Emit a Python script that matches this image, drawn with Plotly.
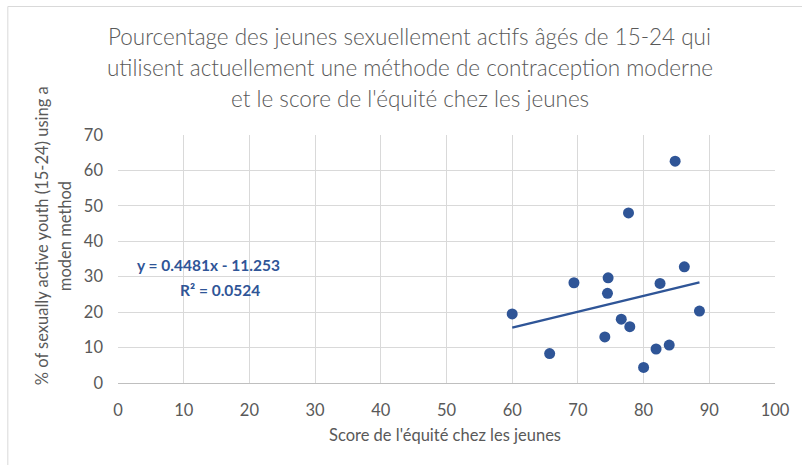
import plotly.graph_objects as go

# ---- data ----
score_equite = [60.0, 65.7, 69.4, 74.6, 74.5, 74.1, 76.6, 77.9, 77.7, 80.0, 81.9, 83.9, 82.5, 84.8, 86.2, 88.5]
pct_modern = [19.5, 8.3, 28.3, 29.7, 25.3, 13.0, 18.0, 15.9, 48.0, 4.4, 9.6, 10.7, 28.1, 62.6, 32.8, 20.3]
trend_slope = 0.4481
trend_intercept = -11.253
r_squared = 0.0524

x_ticks = list(range(0, 101, 10))
y_ticks = list(range(0, 71, 10))

title_lines = [
    "Pourcentage des jeunes sexuellement actifs âgés de 15-24 qui",
    "utilisent actuellement une méthode de contraception moderne",
    "et le score de l'équité chez les jeunes",
]
y_title_lines = ["% of sexually active youth (15-24) using a", "moden method"]
x_title = "Score de l'équité chez les jeunes"

# ---- layout geometry (pixels) ----
W, H = 802, 465
L, R, T, B = 118, 777, 135, 383
FONT = "Lato"
GREY = "#595959"
BLUE = "#2F5597"
AX = 16.5
EQ = 15.5


def px(xp):
    return (xp - L) / (R - L)


def py(yp):
    return (B - yp) / (B - T)


fig = go.Figure()

fig.add_trace(go.Scatter(
    x=score_equite, y=pct_modern, mode="markers",
    marker=dict(color=BLUE, size=11, line=dict(width=0)),
    showlegend=False, hoverinfo="x+y",
))

tx = [min(score_equite), max(score_equite)]
ty = [trend_slope * v + trend_intercept for v in tx]
fig.add_trace(go.Scatter(
    x=tx, y=ty, mode="lines",
    line=dict(color=BLUE, width=2.5),
    showlegend=False, hoverinfo="skip",
))

annotations = []
for line, yc in zip(title_lines, [37, 68, 99]):
    annotations.append(dict(
        text=line, xref="paper", yref="paper", x=px(410.5), y=py(yc),
        xanchor="center", yanchor="middle", showarrow=False,
        font=dict(family=FONT, size=22.5, color=GREY, weight=300),
    ))
for line, xc in zip(y_title_lines, [42, 65]):
    annotations.append(dict(
        text=line, xref="paper", yref="paper", x=px(xc), y=py(236),
        xanchor="center", yanchor="middle", showarrow=False, textangle=-90,
        font=dict(family=FONT, size=AX, color=GREY),
    ))
annotations.append(dict(
    text=x_title, xref="paper", yref="paper", x=px(446), y=py(435),
    xanchor="center", yanchor="middle", showarrow=False,
    font=dict(family=FONT, size=AX, color=GREY),
))
annotations.append(dict(
    text=f"y = {trend_slope}x - {abs(trend_intercept)}", xref="paper", yref="paper",
    x=px(209), y=py(265), xanchor="center", yanchor="middle", showarrow=False,
    font=dict(family=FONT, size=EQ, color=BLUE, weight="bold"),
))
annotations.append(dict(
    text=f"R² = {r_squared}", xref="paper", yref="paper",
    x=px(220.5), y=py(290), xanchor="center", yanchor="middle", showarrow=False,
    font=dict(family=FONT, size=EQ, color=BLUE, weight="bold"),
))

shapes = [
    dict(type="line", xref="paper", yref="paper", x0=px(7.5), x1=px(W + 20), y0=py(6.5), y1=py(6.5),
         line=dict(color="#D9D9D9", width=1)),
    dict(type="line", xref="paper", yref="paper", x0=px(7.5), x1=px(7.5), y0=py(6.5), y1=py(H + 20),
         line=dict(color="#D9D9D9", width=1)),
]

fig.update_layout(
    width=W, height=H,
    margin=dict(l=L, r=W - R, t=T, b=H - B, pad=0),
    paper_bgcolor="white", plot_bgcolor="white",
    font=dict(family=FONT, size=AX, color=GREY),
    annotations=annotations, shapes=shapes,
    xaxis=dict(range=[0, 100], tickvals=x_ticks, ticktext=[str(v) for v in x_ticks],
               showgrid=True, gridcolor="#D9D9D9", gridwidth=1, zeroline=False,
               showline=True, linecolor="#BFBFBF", linewidth=1,
               ticks="", ticklabelstandoff=12, tickfont=dict(size=AX, color=GREY)),
    yaxis=dict(range=[0, 70], tickvals=y_ticks, ticktext=[str(v) for v in y_ticks],
               showgrid=True, gridcolor="#D9D9D9", gridwidth=1, zeroline=False,
               showline=False, ticks="", ticklabelstandoff=14,
               tickfont=dict(size=AX, color=GREY)),
)

fig.write_html("out.html", config={"displayModeBar": False},
               post_script="document.body.style.margin='0';document.body.style.overflow='hidden';")
